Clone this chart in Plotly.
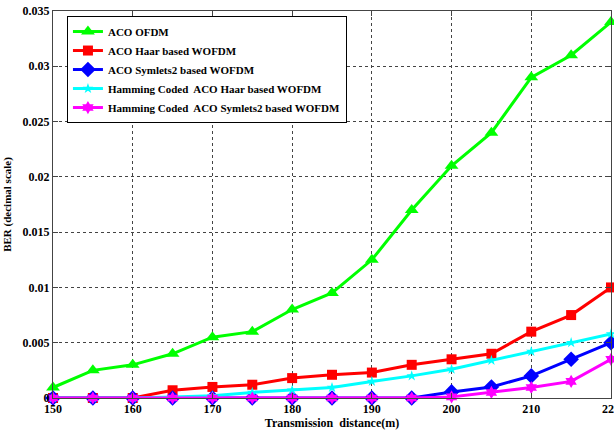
import plotly.graph_objects as go

distance = [150, 155, 160, 165, 170, 175, 180, 185, 190, 195, 200, 205, 210, 215, 220]

aco_ofdm = [0.00095, 0.0025, 0.003, 0.004, 0.0055, 0.006, 0.008, 0.0095, 0.0125, 0.017,
            0.021, 0.024, 0.029, 0.031, 0.034]
aco_haar = [0, 0, 0, 0.0007, 0.001, 0.0012, 0.0018, 0.0021, 0.0023, 0.003,
            0.0035, 0.004, 0.006, 0.0075, 0.01]
aco_sym2 = [0, 0, 0, 0, 0, 0, 0, 0, 0, 0,
            0.00055, 0.001, 0.002, 0.0035, 0.005]
ham_haar = [0, 0, 0, 0.0001, 0.0002, 0.0005, 0.0007, 0.00095, 0.0015, 0.002,
            0.0026, 0.0034, 0.0042, 0.005, 0.0058]
ham_sym2 = [0, 0, 0, 0, 0, 0, 0, 0, 0, 0,
            0.0001, 0.0005, 0.00095, 0.0015, 0.0035]

series_names = [
    "ACO OFDM",
    "ACO Haar based WOFDM",
    "ACO Symlets2 based WOFDM",
    "Hamming Coded  ACO Haar based WOFDM",
    "Hamming Coded  ACO Symlets2 based WOFDM",
]

y_ticks = [0, 0.005, 0.01, 0.015, 0.02, 0.025, 0.03, 0.035]
y_tick_labels = ["0", "0.005", "0.01", "0.015", "0.02", "0.025", "0.03", "0.035"]
x_ticks = [150, 160, 170, 180, 190, 200, 210, 220]
x_tick_labels = ["150", "160", "170", "180", "190", "200", "210", "220"]

styles = [
    ("#00ff00", "triangle-up", 12),
    ("#ff0000", "square", 10),
    ("#0000ff", "diamond", 12),
    ("#00ffff", "star", 8),
    ("#ff00ff", "hexagram", 10),
]

fig = go.Figure()
for name, ys, (color, symbol, size) in zip(series_names,
                                           [aco_ofdm, aco_haar, aco_sym2, ham_haar, ham_sym2],
                                           styles):
    fig.add_trace(go.Scatter(
        x=distance, y=ys, name=name, mode="lines+markers",
        line=dict(color=color, width=3),
        marker=dict(symbol=symbol, size=size, color=color, line=dict(width=0)),
        cliponaxis=False,
    ))

font_family = "Liberation Serif"

fig.update_layout(
    width=614, height=430,
    margin=dict(l=53, r=3, t=11, b=32),
    paper_bgcolor="white", plot_bgcolor="white",
    font=dict(family=font_family, size=12, color="black"),
    showlegend=True,
    legend=dict(
        x=0.025, y=0.987, xanchor="left", yanchor="top",
        bgcolor="white", bordercolor="black", borderwidth=1,
        font=dict(family=font_family, size=11, color="black", weight="bold"),
        tracegroupgap=0, itemwidth=30,
    ),
)

fig.update_xaxes(
    range=[149.999, 220.001], tickvals=x_ticks, ticktext=x_tick_labels,
    ticklabeloverflow="allow", automargin=False,
    showgrid=True, gridcolor="#444444", griddash="dot", gridwidth=1,
    showline=True, linecolor="#444444", linewidth=1, mirror="ticks",
    ticks="inside", ticklen=5, tickcolor="#444444",
    tickfont=dict(family=font_family, size=12, weight="bold"),
    title=dict(text="Transmission  distance(m)", standoff=1,
               font=dict(family=font_family, size=12, weight="bold")),
    zeroline=False,
)
fig.update_yaxes(
    range=[0, 0.035], tickvals=y_ticks, ticktext=y_tick_labels,
    automargin=False,
    showgrid=True, gridcolor="#444444", griddash="dot", gridwidth=1,
    showline=True, linecolor="#444444", linewidth=1, mirror="ticks",
    ticks="inside", ticklen=5, tickcolor="#444444",
    tickfont=dict(family=font_family, size=12, weight="bold"),
    title=dict(text="BER (decimal scale)", standoff=8,
               font=dict(family=font_family, size=11, weight="bold")),
    zeroline=False,
)

fig.write_html("out.html")
